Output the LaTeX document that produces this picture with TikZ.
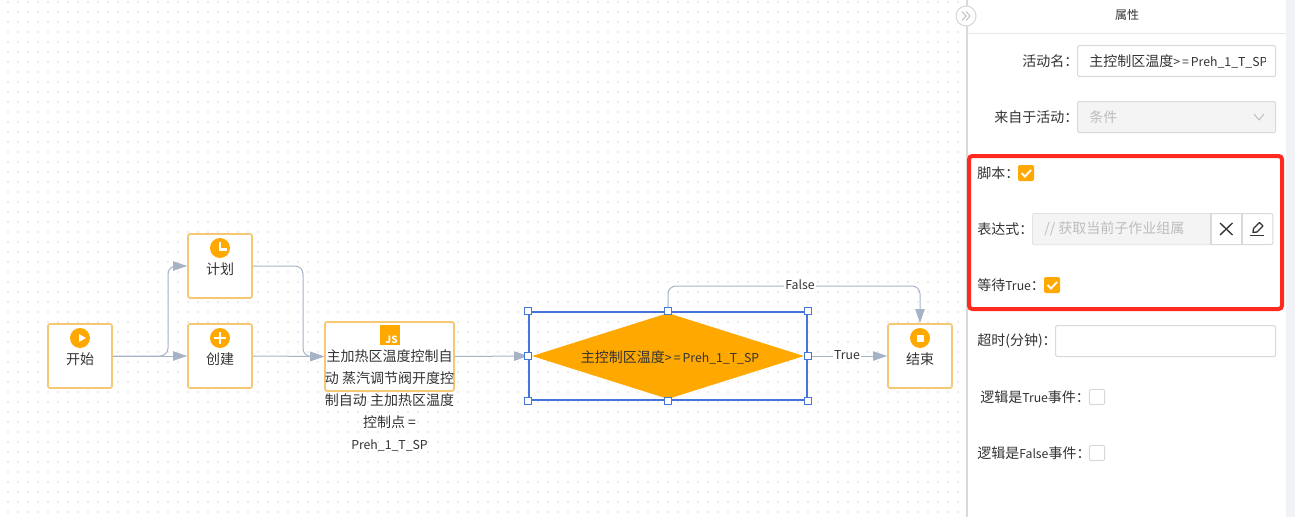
\documentclass[tikz,border=0pt]{standalone}
\usepackage{fontspec}
\setmainfont{Noto Sans CJK SC}
\usetikzlibrary{arrows.meta,shapes.geometric}
\definecolor{amber}{HTML}{FFA800}
\definecolor{boxedge}{HTML}{F6C873}
\definecolor{flow}{HTML}{A6B3C6}
\definecolor{selblue}{HTML}{4475D8}
\definecolor{inkc}{HTML}{333333}
\definecolor{fieldedge}{HTML}{D9D9D9}
\definecolor{fieldfill}{HTML}{F4F4F4}
\definecolor{mutec}{HTML}{BDBDBD}
\definecolor{stripc}{HTML}{F0F2F5}
\definecolor{griddot}{HTML}{ECECEC}
\definecolor{redframe}{HTML}{FF2A1F}
\newcommand{\la}[1]{{\fontsize{9.2}{12}\selectfont #1}}
\tikzset{
  txt/.style={inner sep=0pt, text=inkc, font=\fontsize{10.5}{12.6}\selectfont},
  fieldtxt/.style={txt, anchor=west},
  task/.style={draw=boxedge, fill=white, line width=1.3pt, rounded corners=1.5pt, minimum width=48pt, minimum height=48pt, inner sep=0pt},
  ico/.style={circle, fill=amber, minimum size=15pt, inner sep=0pt},
  flowline/.style={draw=flow, line width=.75pt, rounded corners=6pt},
  flowarrow/.style={flowline, -{Triangle[length=10.5pt,width=7pt]}},
  tag/.style={txt, fill=white, inner xsep=1pt, inner ysep=0pt},
  handle/.style={draw=selblue, fill=white, line width=.8pt, minimum size=5.6pt, inner sep=0pt},
  field/.style={draw=fieldedge, line width=.8pt, rounded corners=1.5pt, inner sep=0pt, anchor=north west},
  cbxon/.style={fill=amber, rounded corners=1.5pt, minimum size=12pt, inner sep=0pt},
  cbxoff/.style={draw=fieldedge, fill=white, line width=.8pt, rounded corners=1.5pt, minimum size=11.5pt, inner sep=0pt},
  whitemark/.style={draw=white, line width=1.9pt},
}
\begin{document}
\begin{tikzpicture}[x=.75pt,y=-.75pt]
\useasboundingbox (0,0) rectangle (1295,517);
\fill[white] (0,0) rectangle (1295,517);
% grid
\foreach \gx in {8,18,...,958}{
\foreach \gy in {2,12,...,512}{
\fill[griddot] (\gx-1,\gy-1) rectangle (\gx+1,\gy+1);
}}

% tasks
\node[task] (nStart) at (80,356){};
\node[task] (nPlan) at (220,266){};
\node[task] (nCreate) at (220,356){};
\node[task, minimum width=96.75pt, minimum height=51.75pt] (nScript) at (389.5,356.5){};
\node[task] (nEnd) at (920,356){};

% selection and decision
\node[draw=selblue, line width=1.2pt, minimum width=208.5pt, minimum height=66pt, inner sep=0pt] (nSel) at (668,356){};
\node[diamond, fill=amber, aspect=3.2, inner sep=0pt, minimum width=204pt, minimum height=64.5pt] (nCond) at (668,356){};
\node[txt] (nCondText) at (670,357){主控制区温度\la{>\,=\,Preh\_1\_T\_SP}};

% connectors
\coordinate (bendA) at (168,356);
\coordinate (bendB) at (303,266);
\coordinate (bendC) at (920,286);
\draw[flowarrow] (nStart.east) -- (nCreate.west);
\draw[flowarrow] (nStart.east) -- (bendA) |- (nPlan.west);
\draw[flowarrow] (nPlan.east) -- (bendB) |- (nScript.west);
\draw[flowarrow] (nCreate.east) -- (nScript.west);
\draw[flowarrow] (nScript.east) -- (nSel.west);
\draw[flowarrow] (nSel.east) -- (nEnd.west);
\draw[flowarrow] (nSel.north) |- (bendC) -- (nEnd.north);
\node[tag] (tagTrue) at (847,355){\la{True}};
\node[tag] (tagFalse) at (800,285){\la{False}};

% handles
\foreach \hp in {north west,north,north east,west,east,south west,south,south east}{
\node[handle] at (nSel.\hp){};
}

% icons
\node[ico] (icoStart) at (80,338){};
\fill[white] (79,334) -- (86,338) -- (79,342) -- cycle;
\node[ico] (icoPlan) at (220,248){};
\draw[whitemark] (220,241.5) -- (220,249.5) -- (227,249.5);
\node[ico] (icoCreate) at (220,338){};
\draw[whitemark] (214,338) -- (226,338);
\draw[whitemark] (220,332) -- (220,344);
\node[ico] (icoEnd) at (920,338){};
\fill[white] (916.5,334.5) rectangle (923.5,341.5);
\node[fill=amber, minimum size=15pt, inner sep=0pt] (icoScript) at (390,335){};
\node[inner sep=0pt, text=white, font=\fontsize{7.5}{8}\bfseries\selectfont, anchor=base east] (icoScriptText) at (398,343.5){JS};

% task texts
\node[txt] (txtStart) at (80,359){开始};
\node[txt] (txtPlan) at (220,269){计划};
\node[txt] (txtCreate) at (220,359){创建};
\node[txt] (txtEnd) at (920,359){结束};
\node[txt, align=center, anchor=north, font=\fontsize{10.5}{16.5}\selectfont] (txtScript) at (389.5,349){主加热区温度控制自\\动 蒸汽调节阀开度控\\制自动 主加热区温度\\控制点 =\\\la{Preh\_1\_T\_SP}};

% panel
\fill[stripc] (1286,0) rectangle (1295,517);
\fill[white] (967,0) rectangle (1286,517);
\draw[fieldedge, line width=.9pt] (967,0) -- (967,517);
\draw[fieldedge!60, line width=.75pt] (967,34) -- (1286,34);
\node[circle, draw=fieldedge, fill=white, line width=.8pt, minimum size=15pt, inner sep=0pt] (nFold) at (966,16){};
\draw[mutec, line width=.7pt] (962,11.5) -- (966,16) -- (962,20.5);
\draw[mutec, line width=.7pt] (966,11.5) -- (970,16) -- (966,20.5);
\node[txt, font=\fontsize{9}{10}\selectfont] (txtTitle) at (1127,15){属性};

\node[fieldtxt] (txtName) at (1022,61){活动名：};
\node[field, minimum width=148.5pt, minimum height=23.25pt] (fName) at (1077,45){};
\begin{scope}
\clip (1080,46) rectangle (1265,75);
\node[fieldtxt] (valName) at (1089,61){主控制区温度\la{>\,=\,Preh\_1\_T\_SP}};
\end{scope}

\node[fieldtxt] (txtFrom) at (994,117){来自于活动：};
\node[field, fill=fieldfill, minimum width=148.5pt, minimum height=23.25pt] (fFrom) at (1077,101){};
\node[fieldtxt, text=mutec] (valFrom) at (1089,117){条件};
\draw[mutec, line width=.7pt] (1254,114) -- (1259,120) -- (1264,114);

\node[draw=redframe, line width=3pt, rounded corners=2.5pt, minimum width=234.75pt, minimum height=114.75pt, inner sep=0pt] (nFrame) at (1125.5,232.5){};

\node[fieldtxt] (txtJs) at (977,173){脚本：};
\node[cbxon] (cbxJs) at (1026,173){};
\draw[whitemark, line width=1.4pt] (1021.5,173) -- (1025,176.5) -- (1031,170);

\node[fieldtxt] (txtExpr) at (977,229){表达式：};
\node[field, fill=white, minimum width=180.25pt, minimum height=23.25pt] (fExpr) at (1032,213){};
\path[fill=fieldfill, rounded corners=1.5pt] (1032.5,213.5) rectangle (1211,244.5);
\draw[fieldedge, line width=.8pt] (1211,213) -- (1211,244);
\draw[fieldedge, line width=.8pt] (1242,213) -- (1242,244);
\node[fieldtxt, text=mutec] (valExpr) at (1044,229){// 获取当前子作业组属};
\draw[inkc, line width=1pt] (1220,223) -- (1232.5,235);
\draw[inkc, line width=1pt] (1232.5,223) -- (1220,235);
\draw[inkc, line width=1pt] (1250,235.5) -- (1264,235.5);
\draw[inkc, line width=1pt, line join=round] (1253,232.5) -- (1253.5,228.5) -- (1259.5,222.5) -- (1263,226) -- (1257,232) -- cycle;

\node[fieldtxt] (txtWait) at (977,285){等待\la{True}：};
\node[cbxon] (cbxWait) at (1052,285){};
\draw[whitemark, line width=1.4pt] (1047.5,285) -- (1051,288.5) -- (1057,282);

\node[fieldtxt] (txtTime) at (977,341){超时(分钟)：};
\node[field, minimum width=165pt, minimum height=23.25pt] (fTime) at (1055,325){};

\node[fieldtxt] (txtTrue) at (980,397){逻辑是\la{True}事件：};
\node[cbxoff] (cbxTrue) at (1097,397){};
\node[fieldtxt] (txtFalse) at (977,453){逻辑是\la{False}事件：};
\node[cbxoff] (cbxFalse) at (1097,453){};
\end{tikzpicture}
\end{document}
